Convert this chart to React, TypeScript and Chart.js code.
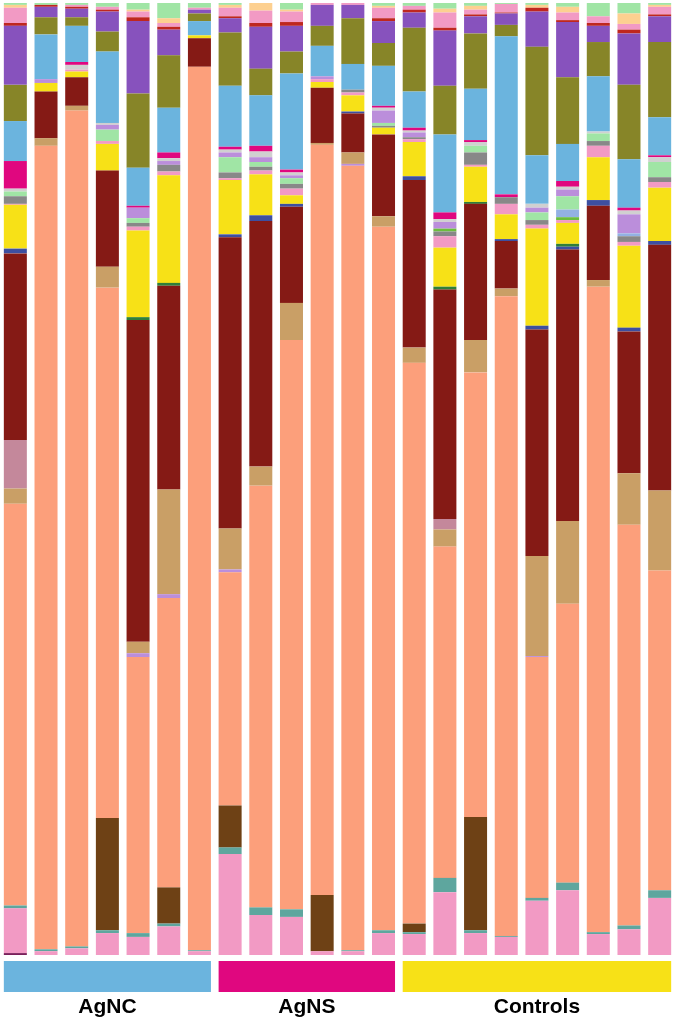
import React, { useEffect, useRef } from 'react';
import { Chart, registerables } from 'chart.js';

Chart.register(...registerables);

// Samples (22 stacked columns, each = 100% relative abundance)
const samples = [
  'AgNC-1', 'AgNC-2', 'AgNC-3', 'AgNC-4', 'AgNC-5', 'AgNC-6', 'AgNC-7',
  'AgNS-1', 'AgNS-2', 'AgNS-3', 'AgNS-4', 'AgNS-5', 'AgNS-6',
  'Ctrl-1', 'Ctrl-2', 'Ctrl-3', 'Ctrl-4', 'Ctrl-5', 'Ctrl-6', 'Ctrl-7', 'Ctrl-8', 'Ctrl-9',
];

const groupNames = ['AgNC', 'AgNS', 'Controls'];
const groupSizes = [7, 6, 9];
const groupColors = ['#6bb4de', '#e0077f', '#f7e117'];

// Taxa values (% per sample), stacked bottom -> top
const plum = [0.2, 0, 0, 0, 0, 0, 0, 0, 0, 0, 0, 0, 0, 0, 0, 0, 0, 0, 0, 0, 0, 0];
const pink = [4.7, 0.4, 0.7, 2.3, 1.9, 3.0, 0.4, 10.6, 4.2, 4.0, 0.4, 0.4, 2.3, 2.2, 6.6, 2.3, 1.9, 5.7, 6.8, 2.2, 2.7, 6.0];
const teal = [0.3, 0.2, 0.2, 0.3, 0.4, 0.3, 0.1, 0.7, 0.8, 0.8, 0, 0.1, 0.3, 0.2, 1.5, 0.3, 0.1, 0.3, 0.8, 0.2, 0.4, 0.8];
const darkBrown = [0, 0, 0, 11.8, 0, 3.8, 0, 4.4, 0, 0, 5.9, 0, 0, 0.9, 0, 11.9, 0, 0, 0, 0, 0, 0];
const salmon = [42.2, 84.4, 87.8, 55.7, 29.0, 30.4, 92.8, 24.5, 44.3, 59.8, 78.8, 82.4, 73.9, 58.9, 34.8, 46.7, 67.2, 25.3, 29.3, 67.8, 42.1, 33.6];
const lavenderLow = [0, 0, 0, 0, 0.4, 0.4, 0, 0.3, 0, 0, 0, 0.2, 0, 0, 0, 0, 0, 0.1, 0, 0, 0, 0];
const tan = [1.6, 0.8, 0.5, 2.2, 1.2, 11.0, 0, 4.3, 2.0, 3.9, 0.2, 1.2, 1.1, 1.6, 1.8, 3.4, 0.8, 10.5, 8.7, 0.7, 5.4, 8.4];
const mauve = [5.1, 0, 0, 0, 0, 0, 0, 0, 0, 0, 0, 0, 0, 0, 1.1, 0, 0, 0, 0, 0, 0, 0];
const darkRed = [19.6, 4.9, 3.0, 10.1, 33.8, 21.4, 3.0, 30.6, 25.8, 10.1, 5.8, 4.1, 8.6, 17.6, 24.1, 14.3, 5.0, 23.8, 28.5, 7.8, 14.9, 25.8];
const navy = [0.5, 0, 0, 0, 0, 0, 0, 0.3, 0.6, 0.3, 0, 0.2, 0, 0.4, 0, 0, 0.2, 0.4, 0.3, 0.6, 0.4, 0.4];
const green = [0, 0, 0, 0, 0.3, 0.3, 0, 0, 0, 0, 0, 0, 0, 0, 0.3, 0.2, 0, 0, 0.3, 0, 0, 0];
const yellow = [4.6, 0.9, 0.6, 2.8, 9.1, 11.3, 0.3, 5.7, 4.3, 0.9, 0.6, 1.7, 0.7, 3.6, 4.1, 3.7, 2.6, 10.2, 2.2, 4.5, 8.6, 5.6];
const pinkMid = [0.1, 0, 0.2, 0.3, 0.4, 0.4, 0, 0.2, 0.4, 0.7, 0.3, 0.3, 0, 0.3, 1.2, 0.2, 1.1, 0.4, 0.3, 1.2, 0.4, 0.6];
const grey = [0.8, 0, 0, 0, 0.4, 0.7, 0, 0.6, 0.4, 0.5, 0, 0.3, 0.2, 0.2, 0.5, 1.3, 0.7, 0.5, 0, 0.5, 0.6, 0.5];
const lime = [0, 0, 0, 0, 0, 0, 0, 0, 0, 0, 0, 0, 0, 0, 0.3, 0, 0, 0, 0.3, 0, 0, 0];
const periwinkle = [0, 0, 0, 0, 0, 0, 0, 0, 0, 0, 0, 0, 0, 0, 0, 0, 0, 0, 0.8, 0, 0.3, 0];
const lightGreen = [0.5, 0, 0, 1.2, 0.5, 0, 0, 1.6, 0.5, 0.6, 0, 0, 0.3, 0, 0, 0.7, 0, 0.8, 1.4, 0.8, 0, 1.6];
const lavender = [0, 0.4, 0, 0.5, 1.1, 0.4, 0, 0.5, 0.5, 0.3, 0.3, 0, 1.3, 0.5, 0.7, 0, 0, 0.5, 0.7, 0, 2.0, 0];
const lightGrey = [0.3, 0, 0.5, 0.2, 0, 0.3, 0, 0.3, 0.6, 0.3, 0, 0, 0.3, 0.2, 0.3, 0.4, 0, 0.4, 0.3, 0.2, 0.4, 0.5];
const magenta = [2.9, 0, 0.3, 0, 0.2, 0.6, 0, 0.3, 0.6, 0.3, 0, 0, 0.2, 0.3, 0.7, 0.2, 0.3, 0, 0.6, 0, 0.3, 0.2];
const lightBlue = [4.2, 4.7, 3.8, 7.5, 4.0, 4.7, 1.5, 6.4, 5.3, 10.1, 3.2, 2.7, 4.2, 3.8, 8.2, 5.4, 16.6, 5.1, 3.9, 5.8, 5.1, 4.0];
const olive = [3.8, 1.8, 0.9, 2.1, 7.8, 5.5, 0.8, 5.6, 2.8, 2.3, 2.1, 4.8, 2.4, 6.7, 5.1, 5.8, 1.2, 11.4, 7.0, 3.6, 7.8, 7.9];
const purple = [6.2, 1.1, 0.9, 2.1, 7.6, 2.7, 0.4, 1.5, 4.4, 2.7, 2.2, 1.4, 2.3, 1.6, 5.8, 1.8, 1.2, 3.7, 5.8, 1.7, 5.4, 2.7];
const red = [0.3, 0.2, 0.2, 0.2, 0.4, 0.3, 0, 0.2, 0.4, 0.4, 0, 0, 0.3, 0.3, 0.3, 0.2, 0.1, 0.4, 0.2, 0.3, 0.4, 0.2];
const pinkTop = [1.6, 0, 0.2, 0.3, 0.6, 0.4, 0.2, 0.9, 1.3, 1.1, 0.2, 0.2, 1.1, 0.4, 1.6, 0.5, 0.9, 0, 0.8, 0.7, 0.6, 0.8];
const peach = [0.3, 0, 0, 0, 0.2, 0.5, 0, 0.3, 0.8, 0.2, 0, 0, 0.2, 0, 0.4, 0.4, 0, 0.3, 0.6, 0, 1.1, 0.2];
const lightGreenTop = [0.2, 0.2, 0.2, 0.4, 0.7, 1.6, 0.5, 0.2, 0, 0.7, 0, 0, 0.3, 0.3, 0.6, 0.3, 0.1, 0.2, 0.4, 1.4, 1.1, 0.2];

const series = [
  { label: 'Taxon 1', color: '#7a1f5a', data: plum },
  { label: 'Taxon 2', color: '#f29ac4', data: pink },
  { label: 'Taxon 3', color: '#5ea69e', data: teal },
  { label: 'Taxon 4', color: '#6e4115', data: darkBrown },
  { label: 'Taxon 5', color: '#fc9f7b', data: salmon },
  { label: 'Taxon 6', color: '#bb8edb', data: lavenderLow },
  { label: 'Taxon 7', color: '#c99f66', data: tan },
  { label: 'Taxon 8', color: '#c4889b', data: mauve },
  { label: 'Taxon 9', color: '#851a15', data: darkRed },
  { label: 'Taxon 10', color: '#3d4fa0', data: navy },
  { label: 'Taxon 11', color: '#2f7f3a', data: green },
  { label: 'Taxon 12', color: '#f7e117', data: yellow },
  { label: 'Taxon 13', color: '#f29ac4', data: pinkMid },
  { label: 'Taxon 14', color: '#888888', data: grey },
  { label: 'Taxon 15', color: '#6cbd3e', data: lime },
  { label: 'Taxon 16', color: '#93b1e3', data: periwinkle },
  { label: 'Taxon 17', color: '#a0e5a5', data: lightGreen },
  { label: 'Taxon 18', color: '#bb8edb', data: lavender },
  { label: 'Taxon 19', color: '#d0d0d0', data: lightGrey },
  { label: 'Taxon 20', color: '#e0077f', data: magenta },
  { label: 'Taxon 21', color: '#6bb4de', data: lightBlue },
  { label: 'Taxon 22', color: '#878528', data: olive },
  { label: 'Taxon 23', color: '#8752bd', data: purple },
  { label: 'Taxon 24', color: '#bf271f', data: red },
  { label: 'Taxon 25', color: '#f29ac4', data: pinkTop },
  { label: 'Taxon 26', color: '#fdd090', data: peach },
  { label: 'Taxon 27', color: '#a0e5a5', data: lightGreenTop },
];

const groupPlugin = {
  id: 'groupBands',
  afterDraw(chart: any) {
    const meta = chart.getDatasetMeta(0);
    const ctx = chart.ctx;
    const bottom = chart.chartArea.bottom;
    let start = 0;
    ctx.save();
    groupNames.forEach((name, g) => {
      const end = start + groupSizes[g] - 1;
      const a = meta.data[start];
      const b = meta.data[end];
      const left = a.x - a.width / 2;
      const right = b.x + b.width / 2;
      ctx.fillStyle = groupColors[g];
      ctx.fillRect(left, bottom + 6, right - left, 31);
      ctx.fillStyle = '#000000';
      ctx.font = 'bold 21px "Liberation Sans", Arial, sans-serif';
      ctx.textAlign = 'center';
      ctx.textBaseline = 'alphabetic';
      ctx.fillText(name, (left + right) / 2, bottom + 58);
      start = end + 1;
    });
    ctx.restore();
  },
};

export default function App() {
  const ref = useRef<HTMLCanvasElement | null>(null);

  useEffect(() => {
    if (!ref.current) return;
    const chart = new Chart(ref.current, {
      type: 'bar',
      data: {
        labels: samples,
        datasets: series.map((s) => ({
          label: s.label,
          data: s.data,
          backgroundColor: s.color,
          borderWidth: 0,
          barPercentage: 0.75,
          categoryPercentage: 1,
        })),
      },
      options: {
        responsive: false,
        animation: false,
        layout: { padding: { top: 3, bottom: 65, left: -1, right: -1 } },
        plugins: {
          legend: { display: false },
          tooltip: { enabled: false },
        },
        scales: {
          x: { stacked: true, display: false },
          y: { stacked: true, display: false, min: 0, max: 100 },
        },
      },
      plugins: [groupPlugin],
    });
    return () => chart.destroy();
  }, []);

  return (
    <div style={{ position: 'fixed', left: 0, top: 0, width: 675, height: 1020, background: '#ffffff' }}>
      <canvas ref={ref} width={675} height={1020} />
    </div>
  );
}
